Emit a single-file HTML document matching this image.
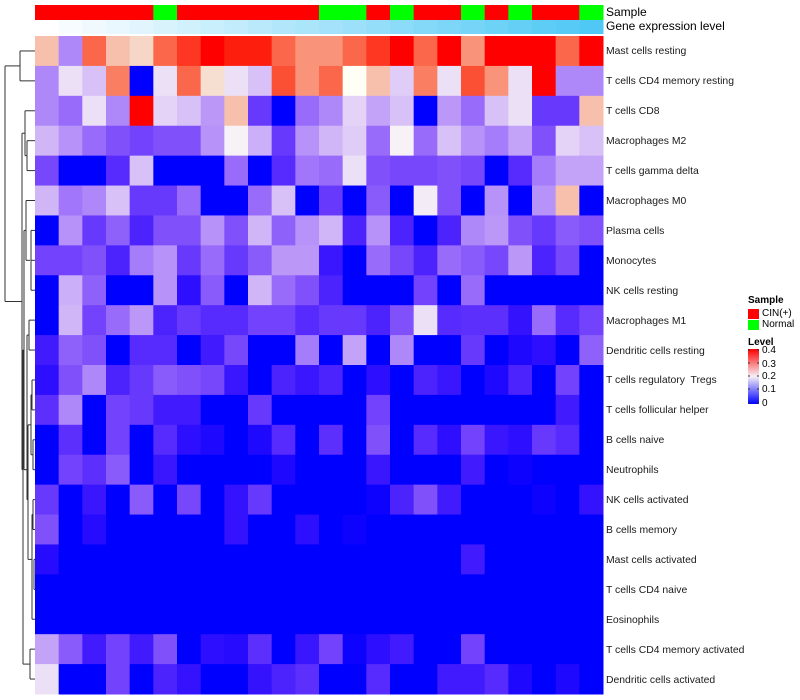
<!DOCTYPE html>
<html><head><meta charset="utf-8"><style>
body{margin:0;background:#fff;width:800px;height:700px;position:relative;overflow:hidden;font-family:"Liberation Sans",sans-serif;}
.lab{position:absolute;left:606px;font-size:10.4px;color:#1a1a1a;line-height:12px;white-space:pre;}
.top{position:absolute;left:606px;font-size:12px;color:#000;line-height:14px;}
.lg{position:absolute;font-size:10px;color:#000;line-height:11px;}
</style></head><body>
<svg id="s" width="800" height="700" style="position:absolute;left:0;top:0"></svg>
<div class="top" style="top:5px">Sample</div>
<div class="top" style="top:19px">Gene expression level</div>
<div class="lab" style="top:46px">Mast cells resting</div>
<div class="lab" style="top:76px">T cells CD4 memory resting</div>
<div class="lab" style="top:106px">T cells CD8</div>
<div class="lab" style="top:136px">Macrophages M2</div>
<div class="lab" style="top:166px">T cells gamma delta</div>
<div class="lab" style="top:196px">Macrophages M0</div>
<div class="lab" style="top:226px">Plasma cells</div>
<div class="lab" style="top:256px">Monocytes</div>
<div class="lab" style="top:286px">NK cells resting</div>
<div class="lab" style="top:316px">Macrophages M1</div>
<div class="lab" style="top:346px">Dendritic cells resting</div>
<div class="lab" style="top:375px">T cells regulatory  Tregs</div>
<div class="lab" style="top:405px">T cells follicular helper</div>
<div class="lab" style="top:435px">B cells naive</div>
<div class="lab" style="top:465px">Neutrophils</div>
<div class="lab" style="top:495px">NK cells activated</div>
<div class="lab" style="top:525px">B cells memory</div>
<div class="lab" style="top:555px">Mast cells activated</div>
<div class="lab" style="top:585px">T cells CD4 naive</div>
<div class="lab" style="top:615px">Eosinophils</div>
<div class="lab" style="top:645px">T cells CD4 memory activated</div>
<div class="lab" style="top:675px">Dendritic cells activated</div>
<div class="lg" style="left:748px;top:295px;font-weight:bold">Sample</div>
<div class="lg" style="left:762px;top:308px">CIN(+)</div>
<div class="lg" style="left:762px;top:319px">Normal</div>
<div class="lg" style="left:748px;top:337px;font-weight:bold">Level</div>
<div class="lg" style="left:762px;top:345px">0.4</div>
<div class="lg" style="left:762px;top:359px">0.3</div>
<div class="lg" style="left:762px;top:371px">0.2</div>
<div class="lg" style="left:762px;top:384px">0.1</div>
<div class="lg" style="left:762px;top:398px">0</div>
<script>
var D=[
[6,3,8,6,5.5,8,9,10,9.5,9.5,8,7,7,8,9,10,8,10,7,10,10,10,8,10],
[3,4.5,4,7.5,0,4.5,8,5.3,4.5,4,8.5,7,8,5,6,4.2,7.5,4.5,8.5,7,4.5,10,3,3],
[3,2.5,4.5,3,10,4.3,4,3.3,6,1.5,0,2.5,3,4.3,3.5,4,0,3.3,2.5,4,4.5,1.5,1.5,6],
[3.8,3.2,2.5,2,1.7,2,2,3.2,4.8,3.7,1.5,3.2,3.8,4.2,2.5,4.8,2.5,4,3.2,2.8,3.5,2,4.3,4],
[1.8,0,0,1.2,4,0,0,0,2.5,0,1.2,2.7,2.5,4.5,2,1.8,1.8,2,1.8,0,1.2,2.8,3.5,3.5],
[3.8,2.7,3,4,1.5,1.5,2.5,0,0,2.5,4,0,1.5,0,2.2,0,4.7,2,0,3.2,0,3.2,6,0],
[0,3.2,1.5,2.3,1,2,2,3.2,2,3.8,2.3,3.2,3.8,1,3.2,1,0,1,3,3.3,2,1.5,2.2,2],
[1.7,1.7,2,1,2.8,3.2,1.5,2.5,1.5,2.2,3.3,3.3,0.7,0,2.5,1.8,1,2.5,2.2,1.8,3.3,1,1.8,0],
[0,3.7,2.3,0,0,3.2,0.5,2.2,0,3.8,2.5,2,1,0,0,0,1.7,0,2.5,0,0,0,0,0],
[0,3.8,1.7,2.5,3.3,1,1.5,1.2,1.2,1.7,1.7,1.2,1.5,1.5,1,2,4.5,1.2,1.3,1.3,0.6,2.5,1.2,1.7],
[0.8,2.3,2,0,1.2,1.2,0,0.8,1.8,0,0,2.8,0,3.5,0,3,0,0,1.5,0,0.3,0.5,0,2.3],
[0.5,2,3,1,1.5,2.2,2,1.8,0.7,0,1,0.7,1,0,0.5,0,1,0.7,0,0.3,1,0,1.7,0],
[1.3,3,0,1.7,1.5,0.8,0.8,0,0,1.5,0,0,0,0,1.7,0,0,0,0,0,0,0,0.8,0],
[0,1.3,0,1.7,0,1.2,0.5,0.3,0,0.3,1.2,0,1.3,0,2,0,1.2,0.5,1.7,0.7,0.5,1.5,1.2,0],
[0,1.7,1.3,2.2,0,0.7,0,0,0,0,0.3,0,0,0,0.7,0,0,0,0.8,0,0.1,0,0,0],
[1.5,0,0.7,0,2.2,0,1.8,0,0.6,1.5,0,0,0,0,0.1,1,2,0.8,0,0,0,0.1,0,0.6],
[2,0,0.4,0,0,0,0,0,0.6,0,0,0.5,0,0.1,0,0,0,0,0,0,0,0,0,0],
[0.4,0,0,0,0,0,0,0,0,0,0,0,0,0,0,0,0,0,0.8,0,0,0,0,0],
[0,0,0,0,0,0,0,0,0,0,0,0,0,0,0,0,0,0,0,0,0,0,0,0],
[0,0,0,0,0,0,0,0,0,0,0,0,0,0,0,0,0,0,0,0,0,0,0,0],
[3.5,2.2,0.8,1.7,0.8,2,0,0.5,0.4,1.3,0,0.7,1.7,0.1,0.5,0.8,0,0,1.7,0,0,0,0,0],
[4.5,0,0,1.7,0,1,0.6,0,0,0.6,1,1.3,0,0,1.2,0,0,0.8,0.8,1.2,0.3,0,0.3,0]];
function col(v){var r,g,b;if(v<=5){var t=v/5;r=255*Math.pow(t,0.75);g=255*Math.pow(t,1.25);b=255-10*t;}else{var t=(v-5)/5;r=245+10*t;g=235*Math.pow(1-t,0.9);b=225*Math.pow(1-t,1.2);}return"rgb("+Math.round(r)+","+Math.round(g)+","+Math.round(b)+")";}
var h='',x0=35,cw=568/24,y0=36,rh=658/22;
var S="RRRRRGRRRRRRGGRGRRGRGRRG";
for(var j=0;j<24;j++){var x=x0+j*cw;h+='<rect x="'+x+'" y="5" width="'+(cw+0.5)+'" height="15" fill="'+(S[j]=='R'?'#ff0000':'#00ff00')+'"/>';
var t=j/23;h+='<rect x="'+x+'" y="20" width="'+(cw+0.5)+'" height="14" fill="rgb('+Math.round(255-176*t)+','+Math.round(255-55*t)+','+Math.round(255-10*t)+')"/>';}
for(var i=0;i<22;i++)for(var j=0;j<24;j++)h+='<rect x="'+(x0+j*cw)+'" y="'+(y0+i*rh)+'" width="'+(cw+0.5)+'" height="'+(rh+0.5)+'" fill="'+col(D[i][j])+'"/>';
function yc(i){return y0+rh*(i+0.5);}
function L(a,b,c,d,w){h+='<line x1="'+a+'" y1="'+b+'" x2="'+c+'" y2="'+d+'" stroke="#333" stroke-width="'+(w||1)+'"/>';}
function M(xa,ya,xb,yb,xm){L(xa,ya,xm,ya);L(xb,yb,xm,yb);L(xm,ya,xm,yb);}
M(35,yc(0),35,yc(1),20);
M(35,yc(3),35,yc(4),27);
M(35,yc(2),27,(yc(3)+yc(4))/2,25);
var ya=(yc(2)+(yc(3)+yc(4))/2)/2;
M(35,yc(5),30,yc(7),26);
M(35,yc(6),35,yc(8),31);L(31,yc(7),35,yc(7));
M(35,yc(9),35,yc(10),29);
M(35,yc(11),35,yc(12),32);M(35,yc(13),35,yc(14),33);
M(32,(yc(11)+yc(12))/2,33,(yc(13)+yc(14))/2,31);
M(35,yc(15),35,yc(16),33);M(35,yc(17),35,yc(18),34);L(34,yc(19),35,yc(19));
M(33,(yc(15)+yc(16))/2,34,yc(19),32);
M(31,(yc(11)+yc(14))/2,32,yc(17),28);
M(29,(yc(9)+yc(10))/2,28,(yc(11)+yc(19))/2,27);
M(35,yc(20),35,yc(21),30);
M(26,yc(6),27,(yc(9)+yc(19))/2,24);
M(24,yc(10),30,(yc(20)+yc(21))/2,23);
M(25,ya,23,yc(14),22);
M(20,(yc(0)+yc(1))/2,22,(ya+yc(14))/2,5);
h+='<rect x="748" y="309" width="11" height="10" fill="#ff0000"/><rect x="748" y="320" width="11" height="10" fill="#00ff00"/>';
h+='<defs><linearGradient id="g" x1="0" y1="0" x2="0" y2="1"><stop offset="0" stop-color="#ff0000"/><stop offset="0.5" stop-color="#f5f0f5"/><stop offset="1" stop-color="#0000ff"/></linearGradient></defs><rect x="748" y="349" width="11" height="55" fill="url(#g)"/>';
[350,363,376,389,403].forEach(function(y){L(748,y,750,y);L(757,y,759,y);});
document.getElementById('s').innerHTML=h;
</script>
</body></html>
